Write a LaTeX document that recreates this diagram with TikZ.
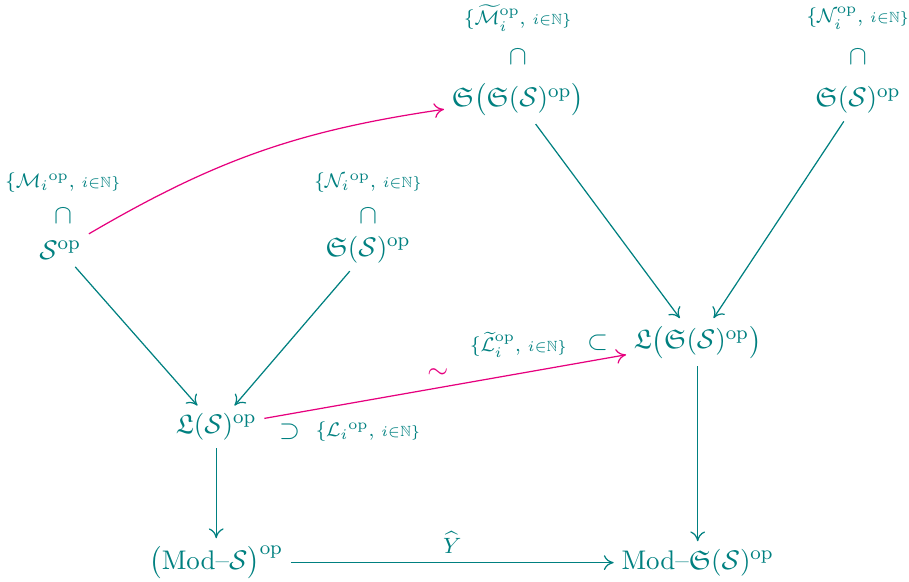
\documentclass[11pt,tikz,border=0pt]{standalone}
\usepackage{xcolor}
\usepackage{amsmath}
\usepackage{amssymb}
\usepackage{tikz}
\usetikzlibrary{arrows.meta}

\definecolor{tealdiag}{RGB}{0,128,128}
\definecolor{pinkdiag}{RGB}{230,0,126}

\begin{document}
\begin{tikzpicture}[
    obj/.style={text=tealdiag, inner sep=3pt},
    fam/.style={text=tealdiag, font=\scriptsize, inner sep=1pt},
    incl/.style={text=tealdiag, inner sep=1pt},
    arrow/.style={-{To[length=4pt, width=6pt]}, draw=tealdiag, line width=0.5pt},
    pinkarrow/.style={-{To[length=4pt, width=6pt]}, draw=pinkdiag, line width=0.5pt}
]
\useasboundingbox (0,0) rectangle (12.99,-8.31);

% Left column
\node[obj] (sop) at (0.86,-3.57) {$\mathcal{S}^{\mathrm{op}}$};
\node[incl] (capa) at (0.9,-3.09) {$\cap$};
\node[fam] (fama) at (0.9,-2.61) {$\{{\mathcal{M}_i}^{\mathrm{op}},\ \scriptstyle i\in\mathbb{N}\}$};

\node[obj] (ssop) at (5.26,-3.57) {$\mathfrak{S}(\mathcal{S})^{\mathrm{op}}$};
\node[incl] (capb) at (5.26,-3.09) {$\cap$};
\node[fam] (famb) at (5.26,-2.61) {$\{{\mathcal{N}_i}^{\mathrm{op}},\ \scriptstyle i\in\mathbb{N}\}$};

\node[obj] (ls) at (3.09,-6.1) {$\mathfrak{L}(\mathcal{S})^{\mathrm{op}}$};
\node[incl] (supl) at (4.14,-6.17) {$\supset$};
\node[fam] (faml) at (5.26,-6.17) {$\{{\mathcal{L}_i}^{\mathrm{op}},\ \scriptstyle i\in\mathbb{N}\}$};

\node[obj] (mods) at (3.09,-8.04) {$\bigl(\mathrm{Mod}\text{--}\mathcal{S}\bigr)^{\mathrm{op}}$};

% Right column
\node[obj] (sss) at (7.4,-1.43) {$\mathfrak{S}\bigl(\mathfrak{S}(\mathcal{S})^{\mathrm{op}}\bigr)$};
\node[incl] (capc) at (7.4,-0.81) {$\cap$};
\node[fam] (famc) at (7.4,-0.26) {$\{\widetilde{\mathcal{M}}_i^{\mathrm{op}},\ \scriptstyle i\in\mathbb{N}\}$};

\node[obj] (ssr) at (12.26,-1.43) {$\mathfrak{S}(\mathcal{S})^{\mathrm{op}}$};
\node[incl] (capd) at (12.26,-0.81) {$\cap$};
\node[fam] (famd) at (12.26,-0.26) {$\{\mathcal{N}_i^{\mathrm{op}},\ \scriptstyle i\in\mathbb{N}\}$};

\node[obj] (lss) at (9.97,-4.89) {$\mathfrak{L}\bigl(\mathfrak{S}(\mathcal{S})^{\mathrm{op}}\bigr)$};
\node[incl] (subl) at (8.54,-4.9) {$\subset$};
\node[fam] (famt) at (7.41,-4.93) {$\{\widetilde{\mathcal{L}}_i^{\mathrm{op}},\ \scriptstyle i\in\mathbb{N}\}$};

\node[obj] (modss) at (9.97,-8.04) {$\mathrm{Mod}\text{--}\mathfrak{S}(\mathcal{S})^{\mathrm{op}}$};

% Arrows
\draw[arrow] (sop) -- (ls);
\draw[arrow] (ssop) -- (ls);
\draw[arrow] (sss) -- (lss);
\draw[arrow] (ssr) -- (lss);
\draw[arrow] (ls) -- (mods);
\draw[arrow] (lss) -- (modss);
\draw[arrow] (mods) -- node[above, text=tealdiag, font=\footnotesize] {$\widehat{Y}$} (modss);

\draw[pinkarrow] (sop) to[bend left=11] (sss);
\draw[pinkarrow] (ls) -- node[above, pos=0.48, text=pinkdiag] {$\sim$} (lss);

\end{tikzpicture}
\end{document}
